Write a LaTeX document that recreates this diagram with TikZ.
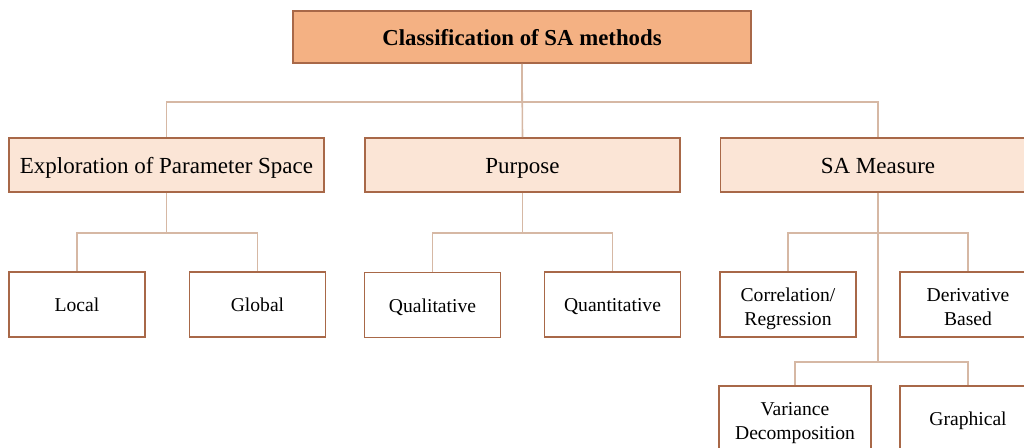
\documentclass[tikz,border=0pt]{standalone}
\usepackage{fontspec}
\setmainfont{Liberation Serif}

\definecolor{boxline}{RGB}{168,104,72}
\definecolor{linkline}{RGB}{214,184,164}
\definecolor{rootfill}{RGB}{244,177,131}
\definecolor{groupfill}{RGB}{251,229,214}

\tikzset{
  rootbox/.style={draw=boxline, fill=rootfill, line width=0.8pt, inner sep=0pt,
    minimum width=229pt, minimum height=26pt, text height=9pt, text depth=0pt,
    font=\fontsize{11.4}{13.7}\selectfont\bfseries},
  groupbox/.style={draw=boxline, fill=groupfill, line width=0.8pt, inner sep=0pt,
    minimum width=157.5pt, minimum height=27pt, text height=9pt, text depth=0pt,
    font=\fontsize{11.5}{13.8}\selectfont},
  leafbox/.style={draw=boxline, fill=white, line width=0.8pt, inner sep=0pt, align=center,
    minimum width=68pt, minimum height=32.5pt, text height=7.5pt, text depth=0pt,
    font=\fontsize{9.8}{12}\selectfont},
  twoline/.style={text height=21.5pt, text depth=0pt}
}
\tikzset{link/.style={draw=linkline, line width=0.8pt}}

\begin{document}
\begin{tikzpicture}[x=0.5pt,y=-0.5pt]
\useasboundingbox (0,0) rectangle (1024,448);

\node[rootbox] (root) at (522,37) {Classification of SA methods};

\node[groupbox] (expl) at (166.5,165) {Exploration of Parameter Space};
\node[groupbox] (purp) at (522.5,165) {Purpose};
\node[groupbox] (meas) at (878,165) {SA Measure};

\node[leafbox] (local) at (77,304.5) {Local};
\node[leafbox] (global) at (257.5,304.5) {Global};
\node[leafbox] (qual) at (432.5,305) {Qualitative};
\node[leafbox] (quant) at (612.5,304.5) {Quantitative};
\node[leafbox, twoline] (corr) at (788,304.5) {Correlation/\\Regression};
\node[leafbox, twoline] (deriv) at (968,304.5) {Derivative\\Based};
\node[leafbox, twoline, minimum width=76pt] (var) at (795,418.5) {Variance\\Decomposition};
\node[leafbox] (graph) at (968,418.5) {Graphical};

% top level
\draw[link] (root.south) -- ++(0,38) coordinate (top) -| (expl.north);
\draw[link] (top) -| (meas.north);
\draw[link] (root.south) -- (purp.north);

% second level
\draw[link] (expl.south) -- ++(0,40) coordinate (e1) -| (local.north);
\draw[link] (e1) -| (global.north);
\draw[link] (purp.south) -- ++(0,40) coordinate (p1) -| (qual.north);
\draw[link] (p1) -| (quant.north);
\draw[link] (meas.south) -- ++(0,40) coordinate (m1) -| (corr.north);
\draw[link] (m1) -| (deriv.north);
\draw[link] (meas.south) -- ++(0,169) coordinate (m2) -| (var.north);
\draw[link] (m2) -| (graph.north);
\end{tikzpicture}
\end{document}
